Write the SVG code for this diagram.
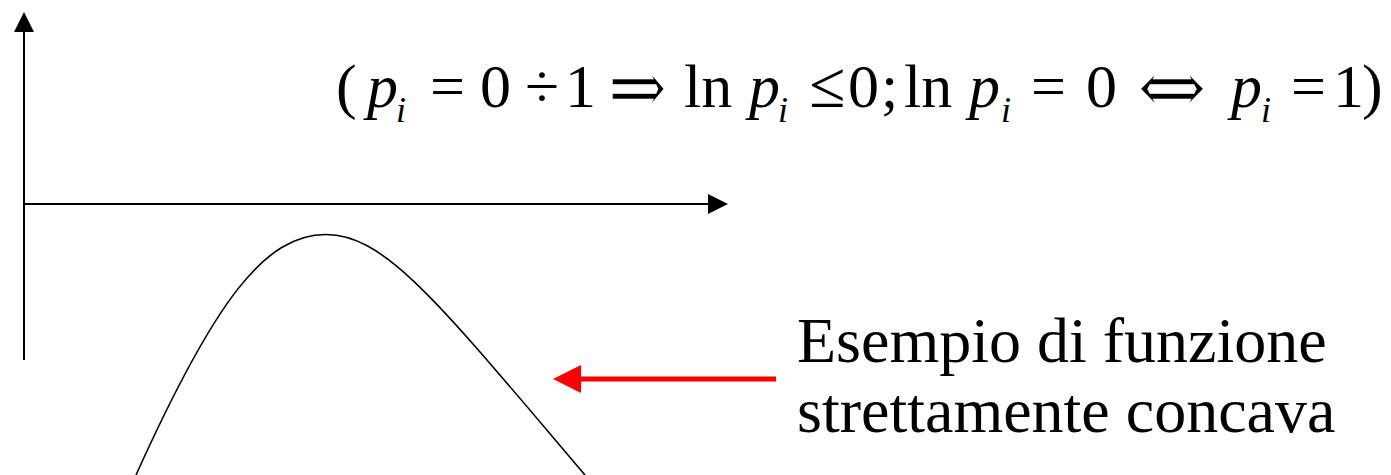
<svg xmlns="http://www.w3.org/2000/svg" width="1391" height="475" viewBox="0 0 1391 475">
<style>
.t{font-family:"Liberation Serif","Times New Roman",serif;fill:#000}
.m{font-size:62px}
.it{font-style:italic}
.sub{font-size:36px;font-style:italic}
.ar{font-family:"DejaVu Serif","Liberation Serif",serif;font-size:84px;stroke:#fff;stroke-width:1.6}
.le{font-size:66px}
.lbl{font-size:64px}
.axis{stroke:#000;stroke-width:2;fill:none}
.curve{stroke:#000;stroke-width:1.6;fill:none}
.red{stroke:#ff0000;stroke-width:5;fill:none}
</style>
<defs>
<marker id="ah" markerUnits="userSpaceOnUse" markerWidth="20" markerHeight="20" viewBox="0 0 20 20" refX="0" refY="10" orient="auto">
<path d="M0,0 L20,10 L0,20 Z" fill="#000"/>
</marker>
<marker id="rh" markerUnits="userSpaceOnUse" markerWidth="28" markerHeight="28" viewBox="0 0 28 28" refX="0" refY="14" orient="auto">
<path d="M0,0 L28,14 L0,28 Z" fill="#ff0000"/>
</marker>
</defs>
<rect width="1391" height="475" fill="#fff"/>
<g id="connectors">
<line class="axis" x1="24" y1="360" x2="24" y2="32" marker-end="url(#ah)"/>
<line class="axis" x1="23" y1="204" x2="708" y2="204" marker-end="url(#ah)"/>
<line class="red" x1="776" y1="379" x2="581" y2="379" marker-end="url(#rh)"/>
</g>
<g id="curve">
<path class="curve" d="M136,475 C215,300 265,234.5 326,234.5 C386,234.5 440.5,305 585,475"/>
</g>
<g id="formula">
<text class="t m" y="107"><tspan x="336">(</tspan><tspan class="it" x="367">p</tspan><tspan class="sub" x="396" y="122">i</tspan><tspan x="430" y="107">=</tspan><tspan x="480">0</tspan><tspan x="525">÷</tspan><tspan x="565">1</tspan><tspan x="684">ln</tspan><tspan class="it" x="749">p</tspan><tspan class="sub" x="778" y="122">i</tspan><tspan class="le" x="809" y="107">≤</tspan><tspan x="848">0</tspan><tspan x="881">;</tspan><tspan x="904">ln</tspan><tspan class="it" x="969">p</tspan><tspan class="sub" x="1001" y="122">i</tspan><tspan x="1031" y="107">=</tspan><tspan x="1086">0</tspan><tspan class="it" x="1231">p</tspan><tspan class="sub" x="1261" y="122">i</tspan><tspan x="1291" y="107">=</tspan><tspan x="1333">1</tspan><tspan x="1362">)</tspan></text>
<text class="t ar" x="608" y="116" textLength="59" lengthAdjust="spacingAndGlyphs">⇒</text>
<text class="t ar" x="1137" y="116" textLength="70" lengthAdjust="spacingAndGlyphs">⇔</text>
</g>
<g id="label">
<text class="t lbl" x="797" y="362">Esempio di funzione</text>
<text class="t lbl" x="797" y="432">strettamente concava</text>
</g>
</svg>
